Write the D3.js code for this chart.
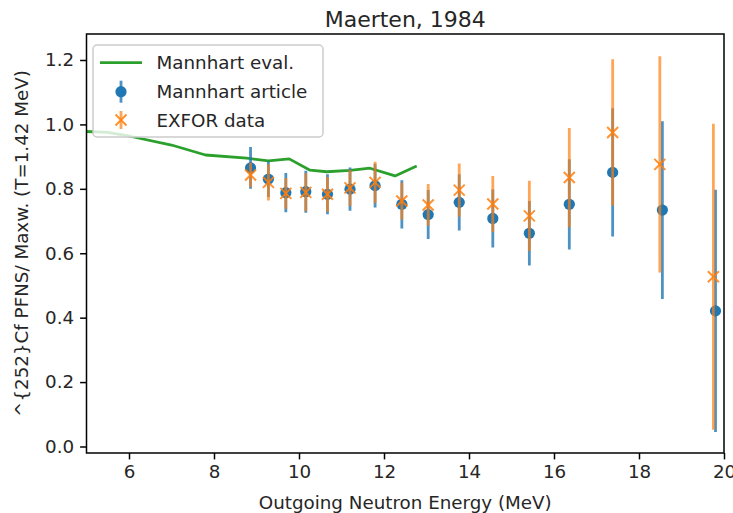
<!DOCTYPE html>
<html>
<head>
<meta charset="utf-8">
<script src="https://cdn.jsdelivr.net/npm/d3@7"></script>
<style>
  html, body { margin: 0; padding: 0; background: #fff; }
  svg { display: block; }
  text { font-family: "DejaVu Sans", sans-serif; fill: #262626; }
</style>
</head>
<body>
<svg id="chart" width="733" height="513"></svg>
<script>
// ---- data ----
const evalEnergies = [5.0, 5.5, 6.0, 7.0, 7.8, 8.77, 9.28, 9.77, 10.26, 10.65, 11.2, 11.67, 12.26, 12.77];
const evalValues   = [0.978, 0.975, 0.964, 0.936, 0.905, 0.895, 0.887, 0.893, 0.858, 0.853, 0.857, 0.864, 0.840, 0.871];

const articleEnergies = [8.86, 9.28, 9.69, 10.16, 10.67, 11.20, 11.79, 12.42, 13.04, 13.77, 14.56, 15.42, 16.36, 17.38, 18.55, 19.80];
const articleValues   = [0.865, 0.830, 0.788, 0.791, 0.783, 0.799, 0.810, 0.752, 0.720, 0.758, 0.708, 0.662, 0.752, 0.851, 0.734, 0.421];
const articleErrors   = [0.065, 0.055, 0.061, 0.065, 0.062, 0.067, 0.068, 0.075, 0.076, 0.087, 0.090, 0.100, 0.140, 0.199, 0.276, 0.376];

const exforEnergies = [8.86, 9.28, 9.69, 10.16, 10.67, 11.20, 11.79, 12.42, 13.04, 13.77, 14.56, 15.42, 16.36, 17.38, 18.49, 19.75];
const exforValues   = [0.843, 0.820, 0.786, 0.789, 0.783, 0.803, 0.820, 0.762, 0.750, 0.796, 0.753, 0.716, 0.835, 0.975, 0.876, 0.527];
const exforErrors   = [0.038, 0.056, 0.048, 0.059, 0.054, 0.056, 0.064, 0.057, 0.065, 0.083, 0.087, 0.109, 0.154, 0.227, 0.336, 0.475];

const xTicks = [6, 8, 10, 12, 14, 16, 18, 20];
const yTicks = [0.0, 0.2, 0.4, 0.6, 0.8, 1.0, 1.2];

const titleText = "Maerten, 1984";
const xLabel = "Outgoing Neutron Energy (MeV)";
const yLabel = "^{252}Cf PFNS/ Maxw. (T=1.42 MeV)";
const legendLabels = ["Mannhart eval.", "Mannhart article", "EXFOR data"];

// ---- layout ----
const L = 86.5, R = 724, T = 34, B = 453;
const C_BLUE = "#1f77b4", C_ORANGE = "#ff7f0e", C_GREEN = "#2ca02c";
const FS = 18.3;

const svg = d3.select("#chart");
const x = d3.scaleLinear().domain([5, 20]).range([L, R]);
const y = d3.scaleLinear().domain([-0.0202, 1.2807]).range([B, T]);

svg.append("defs").append("clipPath").attr("id", "clip")
  .append("rect").attr("x", L).attr("y", T).attr("width", R - L).attr("height", B - T);

const plot = svg.append("g").attr("clip-path", "url(#clip)");

// green evaluation line
plot.append("path")
  .datum(evalEnergies.map((e, i) => [e, evalValues[i]]))
  .attr("fill", "none").attr("stroke", C_GREEN).attr("stroke-width", 2.8)
  .attr("stroke-linejoin", "round")
  .attr("d", d3.line().x(d => x(d[0])).y(d => y(d[1])));

// Mannhart article: error bars + circles
const art = articleEnergies.map((e, i) => ({e, v: articleValues[i], s: articleErrors[i]}));
plot.append("g").selectAll("line").data(art).join("line")
  .attr("x1", d => x(d.e)).attr("x2", d => x(d.e))
  .attr("y1", d => y(d.v - d.s)).attr("y2", d => y(d.v + d.s))
  .attr("stroke", C_BLUE).attr("stroke-width", 2.8).attr("stroke-opacity", 0.8);
plot.append("g").selectAll("circle").data(art).join("circle")
  .attr("cx", d => x(d.e)).attr("cy", d => y(d.v)).attr("r", 5.6)
  .attr("fill", C_BLUE);

// EXFOR: error bars + x markers
const ex = exforEnergies.map((e, i) => ({e, v: exforValues[i], s: exforErrors[i]}));
plot.append("g").selectAll("line").data(ex).join("line")
  .attr("x1", d => x(d.e)).attr("x2", d => x(d.e))
  .attr("y1", d => y(d.v - d.s)).attr("y2", d => y(d.v + d.s))
  .attr("stroke", C_ORANGE).attr("stroke-width", 2.8).attr("stroke-opacity", 0.7);
const xm = 5.5;
plot.append("g").selectAll("path").data(ex).join("path")
  .attr("d", d => {
    const cx = x(d.e), cy = y(d.v);
    return `M${cx - xm},${cy - xm}L${cx + xm},${cy + xm}M${cx - xm},${cy + xm}L${cx + xm},${cy - xm}`;
  })
  .attr("stroke", C_ORANGE).attr("stroke-width", 2).attr("stroke-opacity", 0.85).attr("fill", "none");

// ---- axes ----
const xAxis = d3.axisBottom(x).tickValues(xTicks).tickSize(6.4).tickPadding(6).tickFormat(d3.format("d"));
const gx = svg.append("g").attr("transform", `translate(0,${B})`).call(xAxis);
const yAxis = d3.axisLeft(y).tickValues(yTicks).tickSize(6.4).tickPadding(6).tickFormat(d3.format(".1f"));
const gy = svg.append("g").attr("transform", `translate(${L},0)`).call(yAxis);
[gx, gy].forEach(g => {
  g.select(".domain").remove();
  g.selectAll(".tick line").attr("stroke", "#000").attr("stroke-width", 1.5);
  g.selectAll(".tick text").attr("font-size", FS).attr("font-family", "DejaVu Sans").attr("fill", "#262626");
});

// frame
svg.append("rect").attr("x", L).attr("y", T).attr("width", R - L).attr("height", B - T)
  .attr("fill", "none").attr("stroke", "#000").attr("stroke-width", 1.5);

// labels
svg.append("text").attr("x", (L + R) / 2).attr("y", 27).attr("text-anchor", "middle")
  .attr("font-size", 22).text(titleText);
svg.append("text").attr("x", (L + R) / 2).attr("y", 508.5).attr("text-anchor", "middle")
  .attr("font-size", FS).text(xLabel);
svg.append("text").attr("transform", `translate(28,${(T + B) / 2}) rotate(-90)`)
  .attr("text-anchor", "middle").attr("font-size", FS).text(yLabel);

// ---- legend ----
const lg = svg.append("g");
lg.append("rect").attr("x", 93).attr("y", 45).attr("width", 230).attr("height", 92)
  .attr("rx", 4).attr("fill", "#fff").attr("fill-opacity", 0.8)
  .attr("stroke", "#cccccc").attr("stroke-width", 1.5);
const rows = [62.7, 91.7, 120];
lg.append("line").attr("x1", 100).attr("x2", 142).attr("y1", rows[0]).attr("y2", rows[0])
  .attr("stroke", C_GREEN).attr("stroke-width", 2.8);
lg.append("line").attr("x1", 121).attr("x2", 121).attr("y1", rows[1] - 11).attr("y2", rows[1] + 11)
  .attr("stroke", C_BLUE).attr("stroke-width", 2.8).attr("stroke-opacity", 0.8);
lg.append("circle").attr("cx", 121).attr("cy", rows[1]).attr("r", 5.6).attr("fill", C_BLUE);
lg.append("line").attr("x1", 121).attr("x2", 121).attr("y1", rows[2] - 9).attr("y2", rows[2] + 9)
  .attr("stroke", C_ORANGE).attr("stroke-width", 2.8).attr("stroke-opacity", 0.7);
lg.append("path")
  .attr("d", `M${121 - xm},${rows[2] - xm}L${121 + xm},${rows[2] + xm}M${121 - xm},${rows[2] + xm}L${121 + xm},${rows[2] - xm}`)
  .attr("stroke", C_ORANGE).attr("stroke-width", 2).attr("stroke-opacity", 0.85);
legendLabels.forEach((t, i) => {
  lg.append("text").attr("x", 156.5).attr("y", rows[i] + 6.7).attr("font-size", FS).text(t);
});
</script>
</body>
</html>
